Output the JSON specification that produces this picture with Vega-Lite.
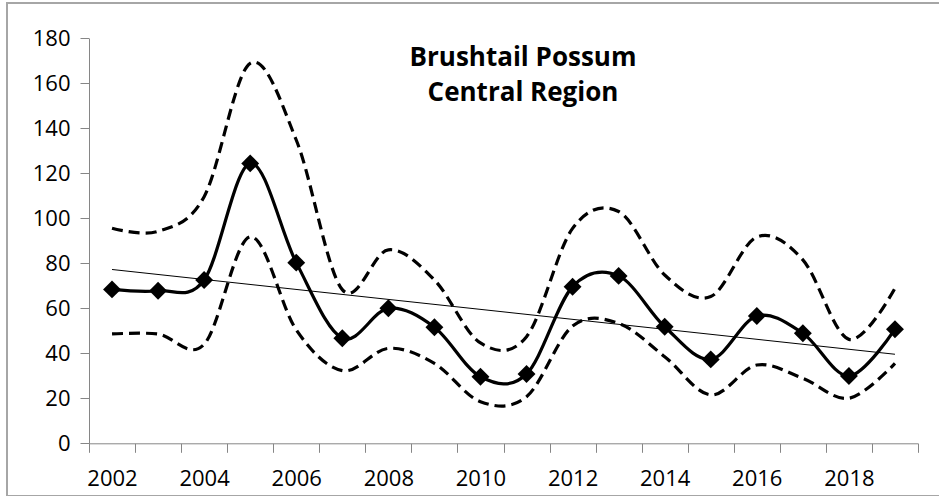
{
  "$schema": "https://vega.github.io/schema/vega-lite/v6.json",
  "width": 940,
  "height": 493,
  "autosize": {"type": "none"},
  "padding": {"left": 7, "top": 3, "right": 0, "bottom": 0},
  "background": "white",
  "config": {
    "view": {"stroke": "#a6a6a6", "strokeWidth": 2},
    "font": "Open Sans",
    "axis": {
      "domainColor": "#868686",
      "tickColor": "#868686",
      "domainWidth": 1,
      "tickWidth": 1,
      "labelColor": "#000000",
      "labelFont": "Open Sans",
      "labelFontSize": 22,
      "grid": false,
      "title": null,
      "tickSize": 9
    }
  },
  "title": {
    "text": ["Brushtail Possum", "Central Region"],
    "anchor": "middle",
    "frame": "group",
    "font": "Open Sans",
    "fontSize": 26,
    "fontWeight": "bold",
    "color": "#000000",
    "lineHeight": 35,
    "baseline": "top",
    "dx": 46,
    "dy": 107
  },
  "data": {
    "values": [
      {"year": 2002, "mean": 68.4, "lower": 48.6, "upper": 95.6},
      {"year": 2003, "mean": 67.8, "lower": 48.6, "upper": 94.2},
      {"year": 2004, "mean": 72.6, "lower": 44.0, "upper": 109.6},
      {"year": 2005, "mean": 124.4, "lower": 91.8, "upper": 168.9},
      {"year": 2006, "mean": 80.3, "lower": 50.4, "upper": 134.8},
      {"year": 2007, "mean": 46.7, "lower": 32.3, "upper": 68.3},
      {"year": 2008, "mean": 60.0, "lower": 42.2, "upper": 86.0},
      {"year": 2009, "mean": 51.6, "lower": 35.5, "upper": 72.6},
      {"year": 2010, "mean": 29.6, "lower": 18.5, "upper": 44.6},
      {"year": 2011, "mean": 30.8, "lower": 20.7, "upper": 47.4},
      {"year": 2012, "mean": 69.6, "lower": 52.1, "upper": 95.5},
      {"year": 2013, "mean": 74.4, "lower": 53.3, "upper": 103.0},
      {"year": 2014, "mean": 51.8, "lower": 38.5, "upper": 74.8},
      {"year": 2015, "mean": 37.3, "lower": 21.5, "upper": 65.2},
      {"year": 2016, "mean": 56.6, "lower": 34.8, "upper": 91.7},
      {"year": 2017, "mean": 48.9, "lower": 28.9, "upper": 81.5},
      {"year": 2018, "mean": 29.9, "lower": 20.0, "upper": 46.2},
      {"year": 2019, "mean": 50.7, "lower": 35.5, "upper": 68.9}
    ]
  },
  "encoding": {
    "x": {
      "field": "year",
      "type": "quantitative",
      "scale": {"domain": [2001.5, 2019.5], "range": [82, 911], "nice": false, "zero": false},
      "axis": {
        "orient": "bottom",
        "offset": -52.7,
        "values": [2001.5, 2002.5, 2003.5, 2004.5, 2005.5, 2006.5, 2007.5, 2008.5, 2009.5, 2010.5, 2011.5, 2012.5, 2013.5, 2014.5, 2015.5, 2016.5, 2017.5, 2018.5, 2019.5],
        "labelExpr": "((datum.value + 0.5) % 2 == 0 && datum.value < 2019) ? toString(datum.value + 0.5) : ''",
        "labelOffset": 23,
        "labelPadding": 16,
        "labelFlush": false,
        "labelOverlap": false,
        "labelBound": false
      }
    }
  },
  "layer": [
    {
      "mark": {"type": "line", "interpolate": "cardinal", "color": "#000000", "strokeWidth": 3.2, "strokeDash": [11, 6]},
      "encoding": {
        "y": {"field": "upper", "type": "quantitative", "scale": {"domain": [0, 180], "range": [440.3, 35.3], "nice": false}, "axis": {"orient": "left", "offset": -82, "values": [0, 20, 40, 60, 80, 100, 120, 140, 160, 180], "labelPadding": 10}}
      }
    },
    {
      "mark": {"type": "line", "interpolate": "cardinal", "color": "#000000", "strokeWidth": 3.2, "strokeDash": [11, 6]},
      "encoding": {
        "y": {"field": "lower", "type": "quantitative", "scale": {"domain": [0, 180], "range": [440.3, 35.3], "nice": false}, "axis": {"orient": "left", "offset": -82, "values": [0, 20, 40, 60, 80, 100, 120, 140, 160, 180], "labelPadding": 10}}
      }
    },
    {
      "transform": [{"regression": "mean", "on": "year", "method": "linear"}],
      "mark": {"type": "line", "color": "#000000", "strokeWidth": 1},
      "encoding": {
        "y": {"field": "mean", "type": "quantitative", "scale": {"domain": [0, 180], "range": [440.3, 35.3], "nice": false}, "axis": {"orient": "left", "offset": -82, "values": [0, 20, 40, 60, 80, 100, 120, 140, 160, 180], "labelPadding": 10}}
      }
    },
    {
      "mark": {"type": "line", "interpolate": "cardinal", "color": "#000000", "strokeWidth": 3.2},
      "encoding": {
        "y": {"field": "mean", "type": "quantitative", "scale": {"domain": [0, 180], "range": [440.3, 35.3], "nice": false}, "axis": {"orient": "left", "offset": -82, "values": [0, 20, 40, 60, 80, 100, 120, 140, 160, 180], "labelPadding": 10}}
      }
    },
    {
      "mark": {"type": "point", "shape": "diamond", "filled": true, "color": "#000000", "opacity": 1, "size": 320},
      "encoding": {
        "y": {"field": "mean", "type": "quantitative", "scale": {"domain": [0, 180], "range": [440.3, 35.3], "nice": false}, "axis": {"orient": "left", "offset": -82, "values": [0, 20, 40, 60, 80, 100, 120, 140, 160, 180], "labelPadding": 10}}
      }
    }
  ]
}
